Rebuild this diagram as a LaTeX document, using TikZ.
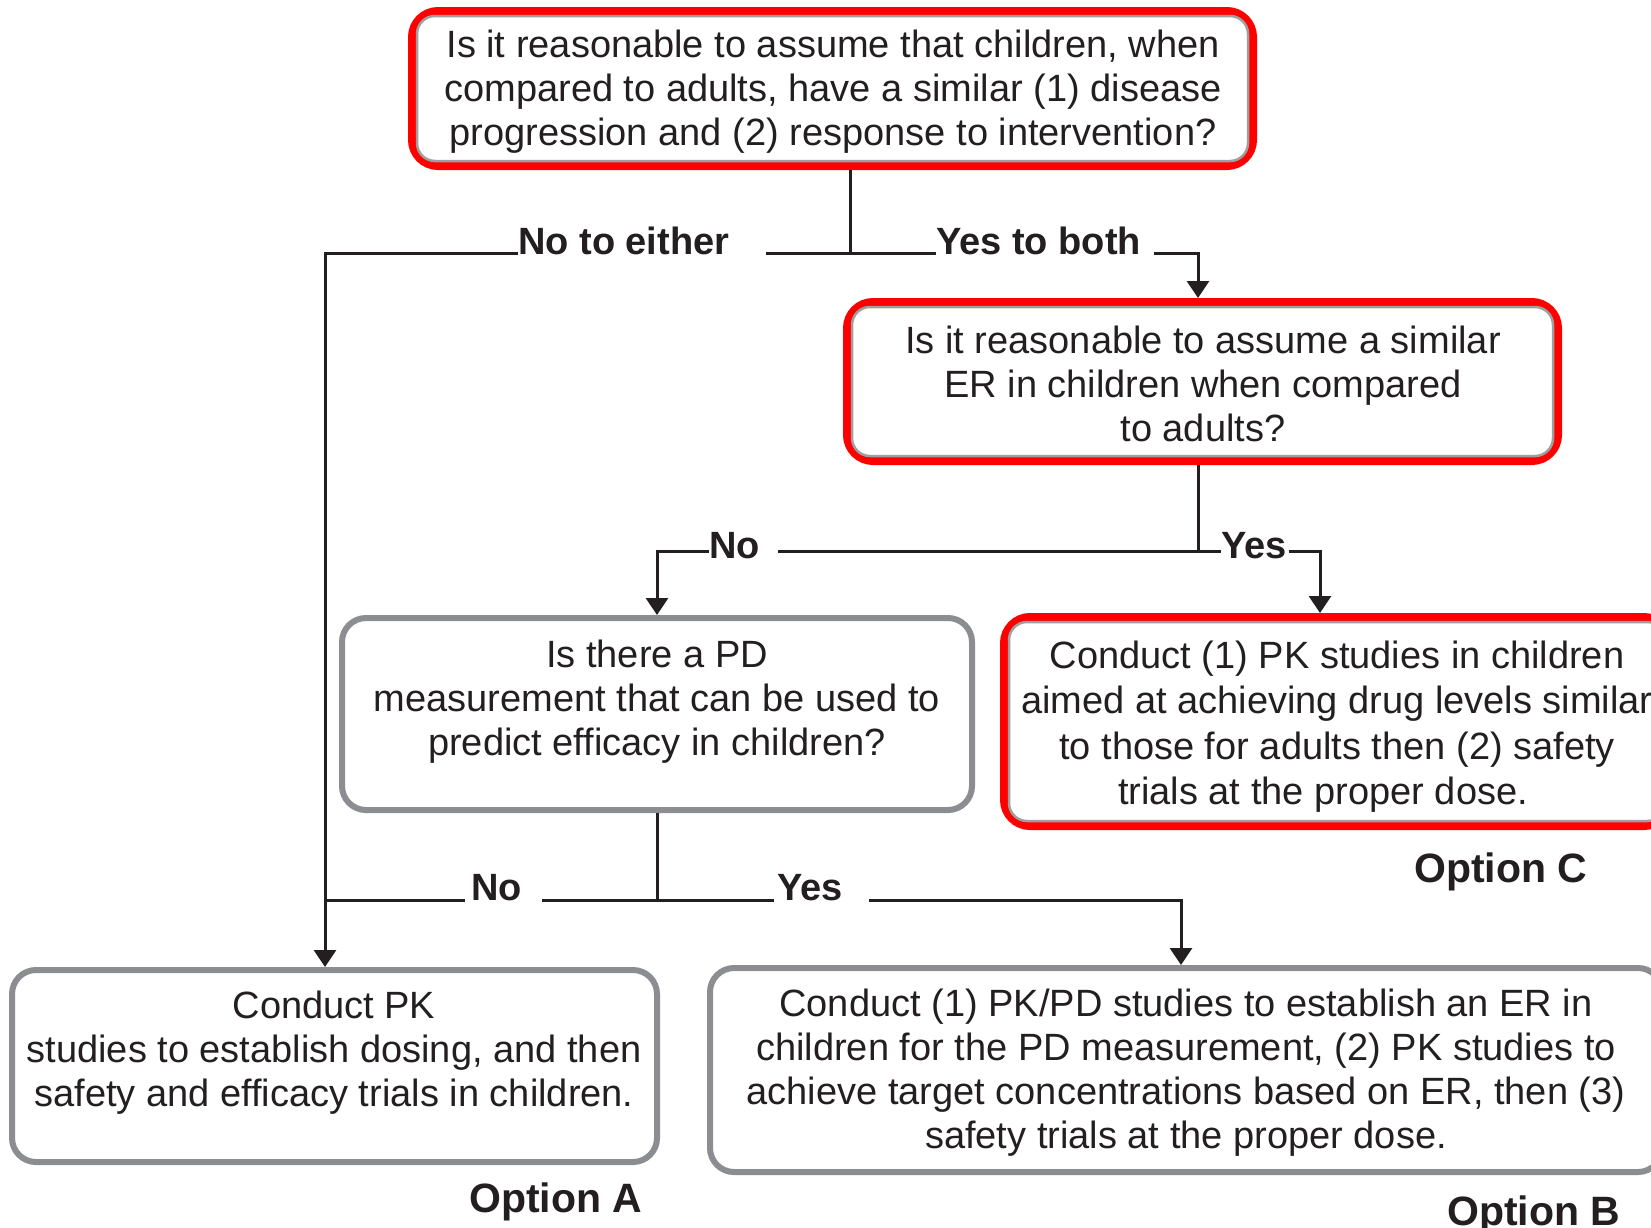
\documentclass[tikz,border=0pt]{standalone}
\usepackage{fontspec}
\setmainfont{Liberation Sans}
\usetikzlibrary{arrows.meta}
\definecolor{ink}{HTML}{231F20}
\definecolor{boxgray}{HTML}{8B8D90}
\definecolor{hired}{HTML}{FF0000}
\begin{document}
\begin{tikzpicture}[x=1pt,y=-1pt,
  gbox/.style={draw=boxgray, line width=6pt, rounded corners=24pt, fill=white, inner sep=0pt},
  rbox/.style={draw=hired, line width=8pt, rounded corners=26pt, fill=white, inner sep=0pt},
  innerline/.style={draw=gray!75, line width=2.5pt, rounded corners=18pt},
  txt/.style={text=ink, align=center, inner sep=0pt, font=\fontsize{38}{44}\selectfont},
  lab/.style={text=ink, inner sep=0pt, anchor=base west, font=\fontsize{38}{44}\selectfont\bfseries},
  opt/.style={text=ink, inner sep=0pt, anchor=base west, font=\fontsize{41}{48}\selectfont\bfseries},
  conn/.style={draw=ink, line width=3pt},
  arr/.style={conn, -{Triangle[width=22pt,length=17pt]}},
]
\useasboundingbox[fill=white] (0,0) rectangle (1651,1227);

% ---- boxes ----
\node[rbox, minimum width=841pt, minimum height=155pt] (top) at (832.5,88.5) {};
\draw[innerline] ([shift={(9,9)}]top.north west) rectangle ([shift={(-9,-9)}]top.south east);
\node[txt] (topt) at (833,91.5) {Is it reasonable to assume that children, when\\compared to adults, have a similar (1) disease\\progression and (2) response to intervention?};

\node[rbox, minimum width=711pt, minimum height=159pt] (er) at (1202.5,381.5) {};
\draw[innerline] ([shift={(9,9)}]er.north west) rectangle ([shift={(-9,-9)}]er.south east);
\node[txt] (ert) at (1203,384) {Is it reasonable to assume a similar\\ER in children when compared\\to adults?};

\node[gbox, minimum width=630pt, minimum height=192pt] (pd) at (657,714) {};
\node[txt] (pdt) at (657,701.5) {Is there a PD\\measurement that can be used to\\predict efficacy in children?};

\node[rbox, minimum width=666pt, minimum height=209pt] (oc) at (1337,721.5) {};
\draw[innerline] ([shift={(9,9)}]oc.north west) rectangle ([shift={(-9,-9)}]oc.south east);
\node[txt, font=\fontsize{38}{45.5}\selectfont] (oct) at (1337,726.5) {Conduct (1) PK studies in children\\aimed at achieving drug levels similar\\to those for adults then (2) safety\hspace*{10pt}\\trials at the proper dose.\hspace*{28pt}};

\node[gbox, minimum width=645pt, minimum height=192pt] (oa) at (334.5,1066) {};
\node[txt] (oat) at (334,1053) {Conduct PK\\studies to establish dosing, and then\\safety and efficacy trials in children.};

\node[gbox, minimum width=952pt, minimum height=204pt] (ob) at (1186,1070) {};
\node[txt] (obt) at (1186,1072.5) {Conduct (1) PK/PD studies to establish an ER in\\children for the PD measurement, (2) PK studies to\\achieve target concentrations based on ER, then (3)\\safety trials at the proper dose.};

% ---- option labels ----
\node[opt] (optc) at (1414,882) {Option C};
\node[opt] (opta) at (469,1212) {Option A};
\node[opt] (optb) at (1447,1225) {Option B};

% ---- branch labels ----
\node[lab] (l1) at (518,254) {No to either};
\node[lab] (l2) at (936,254) {Yes to both};
\node[lab] (l3) at (709,558) {No};
\node[lab] (l4) at (1221,558) {Yes};
\node[lab] (l5) at (471,900) {No};
\node[lab] (l6) at (777,900) {Yes};

% ---- junctions / corners ----
\coordinate (j1) at (850,253);
\coordinate (c1) at (325,253);
\coordinate (c2) at (1198,253);
\coordinate (j2) at (1198,551);
\coordinate (c3) at (657,551);
\coordinate (c4) at (1320,551);
\coordinate (j3) at (657,900);
\coordinate (c5) at (1181,900);

% ---- connectors ----
% level 1
\draw[conn] (j1 |- top.south) -- (j1);
\draw[arr] (l1.west |- j1) -- (c1) -- (c1 |- oa.north);
\draw[conn] ([xshift=36pt]l1.east |- j1) -- (l2.west |- j1);
\draw[arr] ([xshift=13pt]l2.east |- j1) -- (c2) -- (c2 |- er.north);
% level 2
\draw[conn] (j2 |- er.south) -- (j2);
\draw[arr] (l3.west |- j2) -- (c3) -- (c3 |- pd.north);
\draw[conn] ([xshift=18pt]l3.east |- j2) -- (l4.west |- j2);
\draw[arr] ([xshift=2pt]l4.east |- j2) -- (c4) -- (c4 |- oc.north);
% level 3
\draw[conn] (j3 |- pd.south) -- (j3);
\draw[conn] ([xshift=-6pt]l5.west |- j3) -- (c1 |- j3);
\draw[conn] ([xshift=20pt]l5.east |- j3) -- ([xshift=-3pt]l6.west |- j3);
\draw[arr] ([xshift=26pt]l6.east |- j3) -- (c5) -- (c5 |- ob.north);
\end{tikzpicture}
\end{document}
